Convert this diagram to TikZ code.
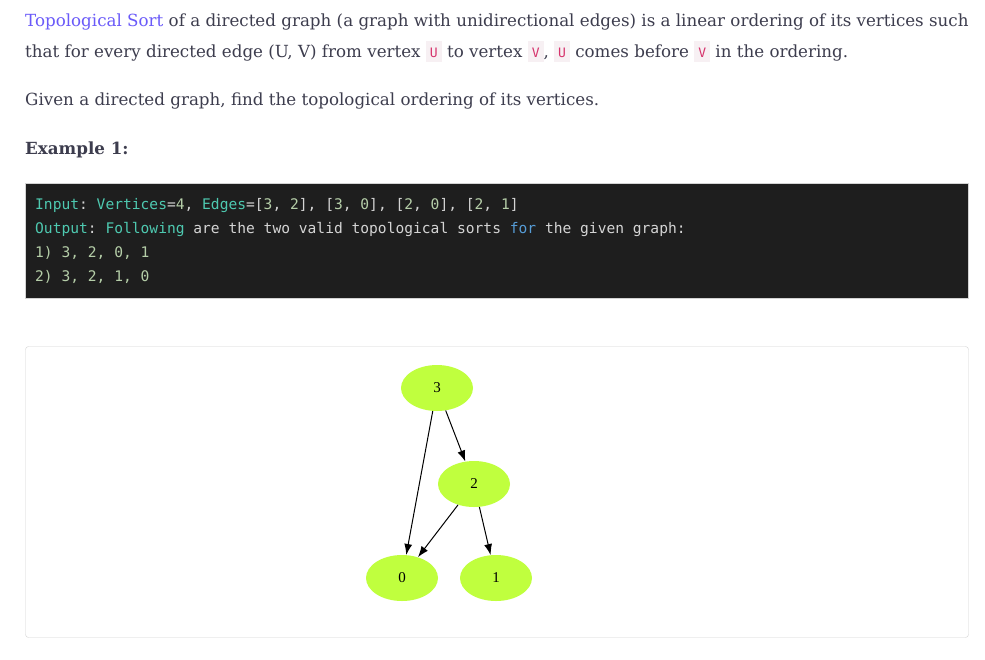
\documentclass[tikz,border=0pt]{standalone}
\usepackage{fontspec}
\setmainfont{DejaVu Serif}
\setmonofont{DejaVu Sans Mono}
\newfontfamily\gvfont{Liberation Serif}
\usetikzlibrary{shapes.geometric, arrows.meta, positioning}
\definecolor{bodytext}{HTML}{3D3D4E}
\definecolor{linkcol}{HTML}{6A5AF9}
\definecolor{icodebg}{HTML}{F7F0F3}
\definecolor{icodefg}{HTML}{D6336C}
\definecolor{darkbg}{HTML}{1E1E1E}
\definecolor{kwteal}{HTML}{4EC9B0}
\definecolor{numgreen}{HTML}{B5CEA8}
\definecolor{kwblue}{HTML}{569CD6}
\definecolor{plain}{HTML}{D4D4D4}
\definecolor{gvgreen}{HTML}{C0FF3E}
\definecolor{frame}{HTML}{D3D3D3}
\newcommand\icode[1]{{\setlength\fboxsep{0pt}\colorbox{icodebg}{\rule[-5pt]{0pt}{21pt}\hspace{4pt}\textcolor{icodefg}{\fontsize{13}{13}\ttfamily #1}\hspace{4pt}}}}
\newcommand\tl[1]{\textcolor{kwteal}{#1}}
\newcommand\nm[1]{\textcolor{numgreen}{#1}}
\tikzset{
  txt/.style={anchor=base west, inner sep=0, text=bodytext, font=\fontsize{16.7}{20}\selectfont},
  codeline/.style={anchor=base west, inner sep=0, text=plain, font=\fontsize{14.6}{18}\ttfamily},
  vertex/.style={ellipse, fill=gvgreen, minimum width=72, minimum height=46, inner sep=0, font=\fontsize{15}{15}\gvfont}
}
\begin{document}
\begin{tikzpicture}[x=1pt, y=-1pt, >={Latex[length=11pt,width=8pt]}]
\useasboundingbox (0,0) rectangle (985,659);
\fill[white] (0,0) rectangle (985,659);
\node[txt] (p1) at (25,26) {\textcolor{linkcol}{Topological Sort} of a directed graph (a graph with unidirectional edges) is a linear ordering of its vertices such};
\node[txt] (p2) at (25,57) {that for every directed edge (U, V) from vertex \icode{U} to vertex \icode{V}, \icode{U} comes before \icode{V} in the ordering.};
\node[txt] (p3) at (25,105) {Given a directed graph, find the topological ordering of its vertices.};
\node[txt, font=\fontsize{16.7}{20}\bfseries] (ex) at (25,154) {Example 1:};
\draw[frame, fill=darkbg] (25.5,183.5) rectangle (968.5,298.5);
\node[codeline] (c1) at (35,209) {\tl{Input}: \tl{Vertices}=\nm{4}, \tl{Edges}=[\nm{3}, \nm{2}], [\nm{3}, \nm{0}], [\nm{2}, \nm{0}], [\nm{2}, \nm{1}]};
\node[codeline] (c2) at (35,233) {\tl{Output}: \tl{Following} are the two valid topological sorts \textcolor{kwblue}{for} the given graph:};
\node[codeline, text=numgreen] (c3) at (35,257) {1) 3, 2, 0, 1};
\node[codeline, text=numgreen] (c4) at (35,281) {2) 3, 2, 1, 0};
\draw[frame, rounded corners=3] (25.5,346.5) rectangle (968.5,637.5);
\node[vertex] (n3) at (437,388) {3};
\node[vertex] (n2) at (474,484) {2};
\node[vertex] (n0) at (402,578) {0};
\node[vertex] (n1) at (496,578) {1};
\draw[->, line width=1pt] (n3) -- (n0);
\draw[->, line width=1pt] (n3) -- (n2);
\draw[->, line width=1pt] (n2) -- (n0);
\draw[->, line width=1pt] (n2) -- (n1);
\end{tikzpicture}
\end{document}
